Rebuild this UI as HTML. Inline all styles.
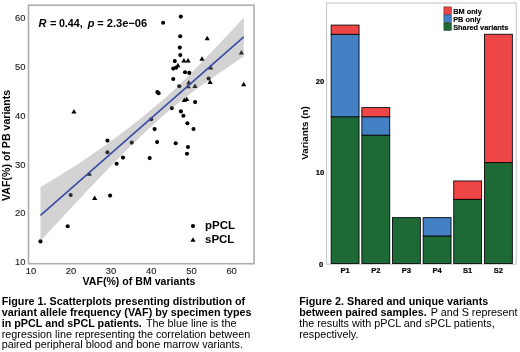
<!DOCTYPE html>
<html><head><meta charset="utf-8"><title>Figure</title>
<style>
html,body{margin:0;padding:0;background:#fff;}
svg{display:block}
text{font-family:"Liberation Sans",Arial,Helvetica,sans-serif;}
.b{font-weight:bold}
.tk{font-size:9.4px;fill:#222;stroke:#222;stroke-width:.12px}
.tkb{font-size:7.6px;font-weight:bold;fill:#000;stroke:#000;stroke-width:.2px}
.cap{font-size:10.8px;fill:#000}.cap .b{font-size:10.77px}
</style></head><body>
<svg width="520" height="352" viewBox="0 0 520 352">
<rect width="520" height="352" fill="#fff"/>

<g fill="#000">
<circle cx="163.1" cy="22.8" r="2.05"/>
<circle cx="180.8" cy="16.6" r="2.05"/>
<circle cx="180.2" cy="36.3" r="2.05"/>
<circle cx="179.8" cy="47.6" r="2.05"/>
<circle cx="180.3" cy="55.1" r="2.05"/>
<circle cx="174.8" cy="61.1" r="2.05"/>
<circle cx="173.25" cy="68.6" r="2.05"/>
<circle cx="176.2" cy="67.6" r="2.05"/>
<circle cx="185" cy="72.2" r="2.05"/>
<circle cx="189.3" cy="72.9" r="2.05"/>
<circle cx="173.25" cy="79" r="2.05"/>
<circle cx="208.6" cy="78.5" r="2.05"/>
<circle cx="179.3" cy="86.3" r="2.05"/>
<circle cx="157.4" cy="92.1" r="2.05"/>
<circle cx="158.6" cy="93.3" r="2.05"/>
<circle cx="195.1" cy="102.1" r="2.05"/>
<circle cx="171.8" cy="108.1" r="2.05"/>
<circle cx="180.9" cy="111.4" r="2.05"/>
<circle cx="183.4" cy="115.8" r="2.05"/>
<circle cx="187.4" cy="123.3" r="2.05"/>
<circle cx="193.5" cy="129" r="2.05"/>
<circle cx="151.2" cy="119.3" r="2.05"/>
<circle cx="154.6" cy="129.1" r="2.05"/>
<circle cx="157.1" cy="142.1" r="2.05"/>
<circle cx="175.7" cy="143.2" r="2.05"/>
<circle cx="187.95" cy="147" r="2.05"/>
<circle cx="186.95" cy="153.8" r="2.05"/>
<circle cx="107.5" cy="140.6" r="2.05"/>
<circle cx="107.4" cy="152.2" r="2.05"/>
<circle cx="131.75" cy="142.6" r="2.05"/>
<circle cx="123" cy="157.6" r="2.05"/>
<circle cx="116.6" cy="163.8" r="2.05"/>
<circle cx="149.7" cy="158.1" r="2.05"/>
<circle cx="70.7" cy="195" r="2.05"/>
<circle cx="110.1" cy="195.6" r="2.05"/>
<circle cx="67.7" cy="226.3" r="2.05"/>
<circle cx="40.5" cy="241.4" r="2.05"/>
<path d="M175.30,67.15L180.50,67.15L177.90,62.65Z"/>
<path d="M181.30,62.55L186.50,62.55L183.90,58.05Z"/>
<path d="M185.45,62.55L190.65,62.55L188.05,58.05Z"/>
<path d="M199.40,60.75L204.60,60.75L202.00,56.25Z"/>
<path d="M204.60,40.15L209.80,40.15L207.20,35.65Z"/>
<path d="M238.80,54.55L244.00,54.55L241.40,50.05Z"/>
<path d="M208.10,69.55L213.30,69.55L210.70,65.05Z"/>
<path d="M207.50,83.95L212.70,83.95L210.10,79.45Z"/>
<path d="M241.10,86.15L246.30,86.15L243.70,81.65Z"/>
<path d="M186.20,84.55L191.40,84.55L188.80,80.05Z"/>
<path d="M185.50,88.25L190.70,88.25L188.10,83.75Z"/>
<path d="M192.40,87.95L197.60,87.95L195.00,83.45Z"/>
<path d="M181.70,101.95L186.90,101.95L184.30,97.45Z"/>
<path d="M184.10,100.95L189.30,100.95L186.70,96.45Z"/>
<path d="M71.35,113.50L76.55,113.50L73.95,109.00Z"/>
<path d="M86.70,175.75L91.90,175.75L89.30,171.25Z"/>
<path d="M92.10,199.95L97.30,199.95L94.70,195.45Z"/>
</g>
<path d="M40.5,187.1 L45.6,184.1 L50.7,181.0 L55.7,178.0 L60.8,174.8 L65.9,171.6 L71.0,168.4 L76.1,165.2 L81.2,161.9 L86.2,158.5 L91.3,155.1 L96.4,151.6 L101.5,148.0 L106.6,144.4 L111.7,140.6 L116.7,136.9 L121.8,133.1 L126.9,129.2 L132.0,125.2 L137.1,121.2 L142.2,117.2 L147.2,113.1 L152.3,108.8 L157.4,104.6 L162.5,100.2 L167.6,95.8 L172.6,91.2 L177.7,86.4 L182.8,81.5 L187.9,76.4 L193.0,71.3 L198.1,66.1 L203.1,60.8 L208.2,55.5 L213.3,50.1 L218.4,44.7 L223.5,39.3 L228.6,33.9 L233.6,28.4 L238.7,22.9 L243.8,17.4 L243.8,56.4 L238.7,59.8 L233.6,63.3 L228.6,66.7 L223.5,70.2 L218.4,73.7 L213.3,77.2 L208.2,80.7 L203.1,84.3 L198.1,88.0 L193.0,91.7 L187.9,95.5 L182.8,99.4 L177.7,103.4 L172.6,107.5 L167.6,111.8 L162.5,116.3 L157.4,120.9 L152.3,125.5 L147.2,130.2 L142.2,135.0 L137.1,139.9 L132.0,144.8 L126.9,149.8 L121.8,154.9 L116.7,160.0 L111.7,165.2 L106.6,170.4 L101.5,175.7 L96.4,181.1 L91.3,186.5 L86.2,191.8 L81.2,197.2 L76.1,202.6 L71.0,208.0 L65.9,213.4 L60.8,218.9 L55.7,224.4 L50.7,229.9 L45.6,235.4 L40.5,241.0Z" fill="#808080" fill-opacity="0.35"/>
<line x1="40.5" y1="215.3" x2="243.8" y2="36.9" stroke="#3b4ca5" stroke-width="1.6"/>
<g fill="#000">
<circle cx="193" cy="226.1" r="2.1"/>
<path d="M190.40,241.85L195.60,241.85L193.00,237.35Z"/>
</g>
<rect x="28.5" y="5.2" width="225.5" height="258.5" fill="none" stroke="#adadad" stroke-width="1.6"/>
<text class="tk" x="25.4" y="21.4" text-anchor="end">60</text>
<text class="tk" x="25.4" y="70.2" text-anchor="end">50</text>
<text class="tk" x="25.4" y="118.9" text-anchor="end">40</text>
<text class="tk" x="25.4" y="167.7" text-anchor="end">30</text>
<text class="tk" x="25.4" y="216.4" text-anchor="end">20</text>
<text class="tk" x="25.4" y="265.2" text-anchor="end">10</text>
<text class="tk" x="30.9" y="273.6" text-anchor="middle">10</text>
<text class="tk" x="70.9" y="273.6" text-anchor="middle">20</text>
<text class="tk" x="111.0" y="273.6" text-anchor="middle">30</text>
<text class="tk" x="151.2" y="273.6" text-anchor="middle">40</text>
<text class="tk" x="191.39999999999998" y="273.6" text-anchor="middle">50</text>
<text class="tk" x="231.6" y="273.6" text-anchor="middle">60</text>
<text class="b" font-size="10.6" x="138.9" y="285.2" text-anchor="middle" fill="#000">VAF(%) of BM variants</text>
<text class="b" font-size="10.6" transform="translate(10.2,145.4) rotate(-90)" text-anchor="middle" fill="#000">VAF(%) of PB variants</text>
<g class="b" font-size="11" fill="#000"><text x="38.4" y="26.8" font-style="italic">R</text><text x="50.1" y="26.8">=</text><text x="58.9" y="26.8" font-size="10.7">0.44,</text><text x="87.7" y="26.8" font-style="italic">p</text><text x="97.3" y="26.8">=</text><text x="106.8" y="26.8" font-size="11.1">2.3e−06</text></g>
<text class="b" font-size="11.5" x="205" y="229" fill="#000">pPCL</text>
<text class="b" font-size="11.5" x="205" y="242.6" fill="#000">sPCL</text>
<rect x="326.6" y="3" width="189.6" height="261.2" fill="none" stroke="#c4c4c4" stroke-width="1"/>
<g stroke="#000" stroke-width="0.85">
<rect x="331.15" y="116.78" width="27.9" height="146.72" fill="#1d6a37"/>
<rect x="331.15" y="34.25" width="27.9" height="82.53" fill="#4480c4"/>
<rect x="331.15" y="25.08" width="27.9" height="9.17" fill="#ee4547"/>
<rect x="361.85" y="135.12" width="27.9" height="128.38" fill="#1d6a37"/>
<rect x="361.85" y="116.78" width="27.9" height="18.34" fill="#4480c4"/>
<rect x="361.85" y="107.61" width="27.9" height="9.17" fill="#ee4547"/>
<rect x="392.45" y="217.65" width="27.9" height="45.85" fill="#1d6a37"/>
<rect x="423.15" y="235.99" width="27.9" height="27.51" fill="#1d6a37"/>
<rect x="423.15" y="217.65" width="27.9" height="18.34" fill="#4480c4"/>
<rect x="453.75" y="199.31" width="27.9" height="64.19" fill="#1d6a37"/>
<rect x="453.75" y="180.97" width="27.9" height="18.34" fill="#ee4547"/>
<rect x="484.45" y="162.63" width="27.9" height="100.87" fill="#1d6a37"/>
<rect x="484.45" y="34.25" width="27.9" height="128.38" fill="#ee4547"/>
</g>
<text class="tkb" x="323.2" y="266.9" text-anchor="end">0</text>
<text class="tkb" x="324.2" y="175.2" text-anchor="end">10</text>
<text class="tkb" x="324.2" y="83.5" text-anchor="end">20</text>
<text class="tkb" x="345.1" y="273.4" text-anchor="middle">P1</text>
<text class="tkb" x="375.8" y="273.4" text-anchor="middle">P2</text>
<text class="tkb" x="406.4" y="273.4" text-anchor="middle">P3</text>
<text class="tkb" x="437.1" y="273.4" text-anchor="middle">P4</text>
<text class="tkb" x="467.7" y="273.4" text-anchor="middle">S1</text>
<text class="tkb" x="498.4" y="273.4" text-anchor="middle">S2</text>
<text class="b" font-size="9.85" transform="translate(308.3,133) rotate(-90)" text-anchor="middle" fill="#000">Variants (n)</text>
<rect x="443.9" y="6.9" width="7.4" height="7.5" fill="#ee4547" stroke="#222" stroke-width="0.5"/>
<text class="b" font-size="7.35" x="453.2" y="13.5" fill="#000" stroke="#000" stroke-width=".15">BM only</text>
<rect x="443.9" y="14.9" width="7.4" height="7.5" fill="#4480c4" stroke="#222" stroke-width="0.5"/>
<text class="b" font-size="7.35" x="453.2" y="21.5" fill="#000" stroke="#000" stroke-width=".15">PB only</text>
<rect x="443.9" y="22.9" width="7.4" height="7.5" fill="#1d6a37" stroke="#222" stroke-width="0.5"/>
<text class="b" font-size="7.35" x="453.2" y="29.5" fill="#000" stroke="#000" stroke-width=".15">Shared variants</text>
<text class="cap" x="1.7" y="304.5"><tspan class="b">Figure 1. Scatterplots presenting distribution of</tspan></text>
<text class="cap" x="1.7" y="315.9"><tspan class="b">variant allele frequency (VAF) by specimen types</tspan></text>
<text class="cap" x="1.7" y="326.6"><tspan class="b">in pPCL and sPCL patients.</tspan><tspan dx="1.2"> The blue line is the</tspan></text>
<text class="cap" x="1.7" y="337.5">regression line representing the correlation between</text>
<text class="cap" x="1.7" y="348.2">paired peripheral blood and bone marrow variants.</text>
<text class="cap" x="299.2" y="304.5"><tspan class="b">Figure 2. Shared and unique variants</tspan></text>
<text class="cap" x="299.2" y="315.9"><tspan class="b">between paired samples.</tspan><tspan dx="1"> P and S represent</tspan></text>
<text class="cap" x="299.2" y="326.6">the results with pPCL and sPCL patients,</text>
<text class="cap" x="299.2" y="337.5">respectively.</text>
</svg></body></html>
